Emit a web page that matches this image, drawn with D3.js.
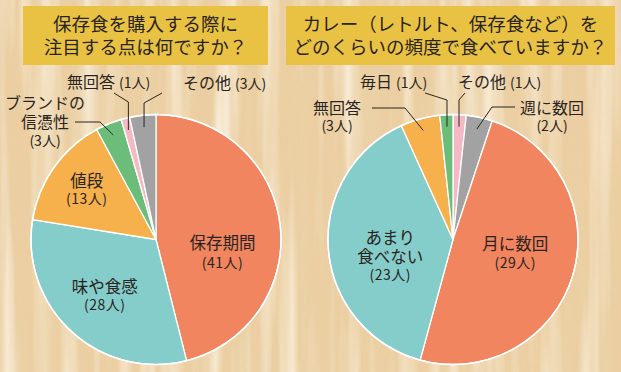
<!DOCTYPE html>
<html lang="ja">
<head>
<meta charset="utf-8">
<script src="https://cdn.jsdelivr.net/npm/d3@7/dist/d3.min.js"></script>
<style>
  html, body { margin: 0; padding: 0; background: #ebcfa2; }
  svg { display: block; font-family: "Noto Sans CJK JP", "Noto Sans", sans-serif; }
</style>
</head>
<body>
<svg id="chart" width="621" height="372"></svg>
<script>
// ---- Survey answers: what people look for when buying emergency food ----
const leftTitle = ["保存食を購入する際に", "注目する点は何ですか？"];
const leftCategories = ["保存期間", "味や食感", "値段", "ブランドの信憑性", "無回答", "その他"];
const leftLines = [["保存期間"], ["味や食感"], ["値段"], ["ブランドの", "信憑性"], ["無回答"], ["その他"]];
const leftValues = [41, 28, 13, 3, 1, 3];
const leftColors = ["#f0855f", "#85cdca", "#f6b14c", "#6cbd79", "#f4b9c5", "#a2a2a2"];

// ---- Survey answers: how often people eat curry (retort / stored food) ----
const rightTitle = ["カレー（レトルト、保存食など）を", "どのくらいの頻度で食べていますか？"];
const rightCategories = ["その他", "週に数回", "月に数回", "あまり食べない", "無回答", "毎日"];
const rightLines = [["その他"], ["週に数回"], ["月に数回"], ["あまり", "食べない"], ["無回答"], ["毎日"]];
const rightValues = [1, 2, 29, 23, 3, 1];
const rightColors = ["#f4b9c5", "#a2a2a2", "#f0855f", "#85cdca", "#f6b14c", "#6cbd79"];

const countText = v => `(${v}人)`;

const svg = d3.select("#chart");
const W = 621, H = 372;
const ink = "#2a2420";

// ---- wood-grain background ----
const defs = svg.append("defs");
function grain(id, seed, freq, rgb, a, b) {
  const f = defs.append("filter").attr("id", id)
    .attr("x", 0).attr("y", 0).attr("width", "100%").attr("height", "100%");
  f.append("feTurbulence").attr("type", "fractalNoise")
    .attr("baseFrequency", freq).attr("numOctaves", 3).attr("seed", seed);
  f.append("feColorMatrix").attr("type", "matrix")
    .attr("values", `0 0 0 0 ${rgb[0]}  0 0 0 0 ${rgb[1]}  0 0 0 0 ${rgb[2]}  ${a} 0 0 0 ${b}`);
}
grain("grainLight", 3, "0.05 0.0025", [0.97, 0.91, 0.80], 2.2, -0.95);
grain("grainDark", 11, "0.07 0.003", [0.84, 0.66, 0.42], 1.8, -0.85);

svg.append("rect").attr("width", W).attr("height", H).attr("fill", "#ebcfa2");
svg.append("rect").attr("width", W).attr("height", H).attr("filter", "url(#grainLight)");
svg.append("rect").attr("width", W).attr("height", H).attr("filter", "url(#grainDark)").attr("opacity", 0.7);

// ---- title boxes ----
function drawTitle(lines, x0, x1) {
  const g = svg.append("g");
  g.append("rect").attr("x", x0).attr("y", 6).attr("width", x1 - x0).attr("height", 59)
    .attr("fill", "#e9c244");
  g.selectAll("text").data(lines).join("text")
    .attr("x", (x0 + x1) / 2).attr("y", (d, i) => 30.5 + i * 23.5)
    .attr("text-anchor", "middle").attr("font-size", 18.5).attr("fill", ink)
    .text(d => d);
}
drawTitle(leftTitle, 23, 268);
drawTitle(rightTitle, 286, 615);

// ---- pies ----
function drawPie(cfg) {
  const data = cfg.categories.map((c, i) => ({
    name: c, value: cfg.values[i], color: cfg.colors[i], lines: cfg.lines[i], layout: cfg.layout[i]
  }));
  const arcs = d3.pie().sort(null).value(d => d.value)(data);
  const arc = d3.arc().innerRadius(0).outerRadius(cfg.r);
  const g = svg.append("g").attr("transform", `translate(${cfg.cx},${cfg.cy})`);

  g.selectAll("path.slice").data(arcs).join("path").attr("class", "slice")
    .attr("d", arc).attr("fill", d => d.data.color)
    .attr("stroke", "#fff").attr("stroke-width", 1.3).attr("stroke-linejoin", "round");
  g.append("circle").attr("r", cfg.r).attr("fill", "none")
    .attr("stroke", "#fff").attr("stroke-width", 1.5);

  const labels = svg.append("g").attr("fill", ink);

  arcs.forEach(d => {
    const L = d.data.layout;
    if (L.type === "inner") {
      const c = d3.arc().innerRadius(L.r).outerRadius(L.r).centroid(d);
      const x = cfg.cx + c[0];
      const rows = d.data.lines.length + 1;
      const lh = L.lh || 19;
      const yMid = cfg.cy + c[1] + (L.dy || 0);
      const top = yMid - (rows - 1) * lh / 2;
      const t = labels.append("text").attr("text-anchor", "middle");
      d.data.lines.forEach((s, i) => {
        t.append("tspan").attr("x", x).attr("y", top + i * lh + 6).attr("font-size", 16.5).text(s);
      });
      t.append("tspan").attr("x", x).attr("y", top + (rows - 1) * lh + 5)
        .attr("font-size", 14).attr("letter-spacing", 0.5).text(countText(d.data.value));
    } else {
      // outside label with a leader line into the slice
      const c = d3.arc().innerRadius(113).outerRadius(113).centroid(d);
      const end = [cfg.cx + c[0], cfg.cy + c[1]];
      const elbow = L.vertical ? [end[0], L.elbowY] : L.elbow;
      labels.append("path")
        .attr("d", d3.line()([L.start, elbow, end]))
        .attr("fill", "none").attr("stroke", ink).attr("stroke-width", 1);
      const t = labels.append("text").attr("text-anchor", L.anchor);
      if (L.inline) {
        t.attr("x", L.x).attr("y", L.y);
        t.append("tspan").attr("font-size", 16).text(d.data.lines.join(""));
        t.append("tspan").attr("font-size", 14).attr("dx", 4).text(countText(d.data.value));
      } else {
        const lh = L.lh || 18;
        d.data.lines.forEach((s, i) => {
          t.append("tspan").attr("x", L.x).attr("y", L.y + i * lh).attr("font-size", 16).text(s);
        });
        t.append("tspan").attr("x", L.x).attr("y", L.y + d.data.lines.length * lh - 1)
          .attr("font-size", 14).text(countText(d.data.value));
      }
    }
  });
}

drawPie({
  cx: 156, cy: 239.5, r: 125,
  categories: leftCategories, values: leftValues, colors: leftColors, lines: leftLines,
  layout: [
    { type: "inner", r: 67, dy: 22, lh: 20 },
    { type: "inner", r: 76, lh: 18 },
    { type: "inner", r: 85, lh: 18 },
    { type: "outer", anchor: "middle", x: 45, y: 109, lh: 19, start: [75, 122], elbow: [100, 122] },
    { type: "outer", anchor: "start", inline: true, x: 67, y: 88, start: [114, 93], vertical: true, elbowY: 102 },
    { type: "outer", anchor: "start", inline: true, x: 183, y: 89, start: [162, 93], vertical: true, elbowY: 103 }
  ]
});

drawPie({
  cx: 453, cy: 239.5, r: 125,
  categories: rightCategories, values: rightValues, colors: rightColors, lines: rightLines,
  layout: [
    { type: "outer", anchor: "start", inline: true, x: 458, y: 88, start: [465, 93], vertical: true, elbowY: 100 },
    { type: "outer", anchor: "middle", x: 552, y: 114, start: [515, 107], elbow: [492, 107] },
    { type: "inner", r: 65, dy: -5, lh: 19 },
    { type: "inner", r: 63, dy: 12, lh: 18.5 },
    { type: "outer", anchor: "middle", x: 337, y: 114, start: [372, 108], elbow: [405, 108] },
    { type: "outer", anchor: "start", inline: true, x: 360, y: 88, start: [425, 93], vertical: true, elbowY: 100 }
  ]
});
</script>
</body>
</html>
